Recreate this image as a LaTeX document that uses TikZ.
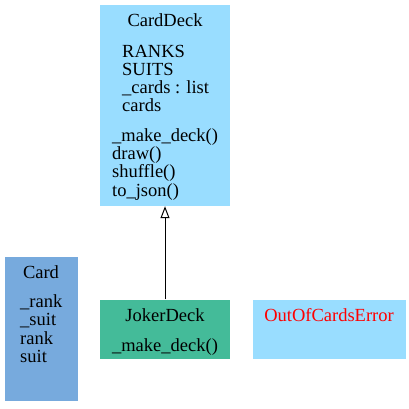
\documentclass[tikz,border=0pt]{standalone}
\usepackage{fontspec}
\setmainfont{Liberation Serif}
\newfontfamily\classfont{Liberation Serif}
\usetikzlibrary{arrows.meta}
\definecolor{lightcyan}{HTML}{99DDFF}
\definecolor{lightblue}{HTML}{77AADD}
\definecolor{mint}{HTML}{44BB99}
\tikzset{
  classbox/.style={draw=none, rectangle, inner sep=0pt},
  txt/.style={inner sep=0pt, anchor=base west},
  title/.style={inner sep=0pt, anchor=base},
  inherit/.style={-{Triangle[open, length=12pt, width=9pt]}, line width=1pt}
}

\begin{document}
\begin{tikzpicture}[x=1pt, y=-1pt, font=\classfont\fontsize{18.5}{18.5}\selectfont]
    \useasboundingbox (0,0) rectangle (409,408);
    % class boxes
    \node[classbox, fill=lightcyan, minimum width=130pt, minimum height=201pt] (carddeck) at (165,105.5) {};
    \node[classbox, fill=lightblue, minimum width=73pt, minimum height=144pt] (card) at (41,329) {};
    \node[classbox, fill=mint, minimum width=130pt, minimum height=59pt] (jokerdeck) at (165,329) {};
    \node[classbox, fill=lightcyan, minimum width=153pt, minimum height=59pt] (outofcards) at (329,329) {};
    % CardDeck
    \node[title] (carddecktitle) at (165,26) {CardDeck};
    \node[txt] (ranks) at (122,57) {RANKS};
    \node[txt] (suits) at (122,75) {SUITS};
    \node[txt] (cardslist) at (122,93) {\_cards : list};
    \node[txt] (cardsprop) at (122,111) {cards};
    \node[txt] (makedeck) at (112,141) {\_make\_deck()};
    \node[txt] (draw) at (112,159) {draw()};
    \node[txt] (shuffle) at (112,177) {shuffle()};
    \node[txt] (tojson) at (112,196) {to\_json()};
    % Card
    \node[title] (cardtitle) at (41,278) {Card};
    \node[txt] (underrank) at (20,307) {\_rank};
    \node[txt] (undersuit) at (20,325) {\_suit};
    \node[txt] (rank) at (20,344) {rank};
    \node[txt] (suit) at (20,362) {suit};
    % JokerDeck
    \node[title] (jokertitle) at (165,321) {JokerDeck};
    \node[title] (jokermake) at (165,351) {\_make\_deck()};
    % OutOfCardsError
    \node[title, text=red] (errortitle) at (329,321) {OutOfCardsError};
    % inheritance
    \draw[inherit] (jokerdeck.north) -- (carddeck.south);
\end{tikzpicture}
\end{document}
